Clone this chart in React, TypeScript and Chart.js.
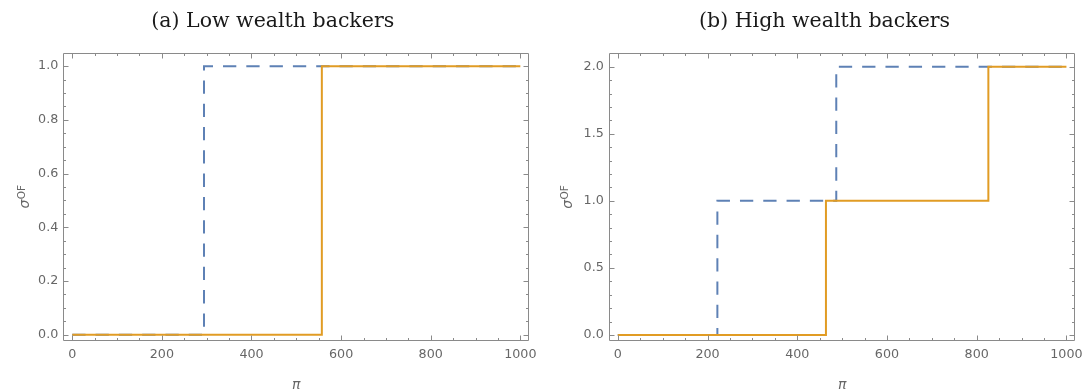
import React, { useEffect, useRef } from 'react';
import { Chart, registerables } from 'chart.js';

Chart.register(...registerables);

// ---- data ----
const lowBlueX = [0, 294, 294, 1000];
const lowBlueY = [0, 0, 1, 1];
const lowOrangeX = [0, 557, 557, 1000];
const lowOrangeY = [0, 0, 1, 1];

const highBlueX = [0, 222, 222, 487, 487, 1000];
const highBlueY = [0, 0, 1, 1, 2, 2];
const highOrangeX = [0, 464, 464, 826, 826, 1000];
const highOrangeY = [0, 0, 1, 1, 2, 2];

const xTickValues = [0, 200, 400, 600, 800, 1000];
const lowYTickValues = [0, 0.2, 0.4, 0.6, 0.8, 1.0];
const highYTickValues = [0, 0.5, 1.0, 1.5, 2.0];

const panelTitles = ['(a) Low wealth backers', '(b) High wealth backers'];
const xAxisLabel = 'π';
const yAxisLabelBase = 'σ';
const yAxisLabelSup = 'OF';

const BLUE = '#5E81B5';
const ORANGE = '#E19C24';
const FRAME = '#8a8a8a';
const TICK_TEXT = '#666666';

type PanelCfg = {
  left: number;
  title: string;
  blueX: number[];
  blueY: number[];
  orangeX: number[];
  orangeY: number[];
  yTicks: number[];
  yMin: number;
  yMax: number;
  yMinorStep: number;
  padLeft: number;
  padRight: number;
  yWidth: number;
  titlePadBottom: number;
};

const TITLE_SIZE = 20.5;
const TITLE_PAD_TOP = 21.5 - (TITLE_SIZE * 1.2) / 2;

const panels: PanelCfg[] = [
  {
    left: 0,
    title: panelTitles[0],
    blueX: lowBlueX,
    blueY: lowBlueY,
    orangeX: lowOrangeX,
    orangeY: lowOrangeY,
    yTicks: lowYTickValues,
    yMin: -0.022,
    yMax: 1.05,
    yMinorStep: 0.05,
    padLeft: 16.3,
    padRight: 13.7,
    yWidth: 47,
    titlePadBottom: 52.7 - TITLE_PAD_TOP - TITLE_SIZE * 1.2,
  },
  {
    left: 543,
    title: panelTitles[1],
    blueX: highBlueX,
    blueY: highBlueY,
    orangeX: highOrangeX,
    orangeY: highOrangeY,
    yTicks: highYTickValues,
    yMin: -0.043,
    yMax: 2.1,
    yMinorStep: 0.1,
    padLeft: 30.8,
    padRight: 10.6,
    yWidth: 35,
    titlePadBottom: 53.3 - TITLE_PAD_TOP - TITLE_SIZE * 1.2,
  },
];

const toPoints = (xs: number[], ys: number[]) => xs.map((x, i) => ({ x, y: ys[i] }));

function makeFramePlugin(cfg: PanelCfg) {
  return {
    id: 'mmaFrame',
    afterDraw(chart: any) {
      const { ctx, chartArea: a, scales } = chart;
      const xs = scales.x;
      const ys = scales.y;
      ctx.save();
      // frame
      ctx.strokeStyle = FRAME;
      ctx.lineWidth = 1;
      const L = Math.round(a.left) + 0.5;
      const R = Math.round(a.right) - 0.5;
      const T = Math.round(a.top) + 0.5;
      const B = Math.round(a.bottom) - 0.5;
      ctx.beginPath();
      ctx.rect(L, T, R - L, B - T);
      ctx.stroke();
      // x ticks (inward, bottom and top)
      ctx.beginPath();
      for (let v = 0; v <= 1000 + 1e-9; v += 50) {
        const major = xTickValues.includes(v);
        const len = major ? 5 : 2.5;
        const px = Math.round(xs.getPixelForValue(v)) + 0.5;
        ctx.moveTo(px, B);
        ctx.lineTo(px, B - len);
        ctx.moveTo(px, T);
        ctx.lineTo(px, T + len);
      }
      // y ticks (inward, left and right)
      const top = cfg.yTicks[cfg.yTicks.length - 1];
      const n = Math.round(top / cfg.yMinorStep);
      for (let i = 0; i <= n; i++) {
        const v = i * cfg.yMinorStep;
        const major = cfg.yTicks.some((t) => Math.abs(t - v) < 1e-9);
        const len = major ? 5 : 2.5;
        const py = Math.round(ys.getPixelForValue(v)) + 0.5;
        ctx.moveTo(L, py);
        ctx.lineTo(L + len, py);
        ctx.moveTo(R, py);
        ctx.lineTo(R - len, py);
      }
      ctx.stroke();

      // x axis label
      ctx.fillStyle = TICK_TEXT;
      ctx.font = 'italic 14px "DejaVu Sans"';
      ctx.textAlign = 'center';
      ctx.textBaseline = 'alphabetic';
      ctx.fillText(xAxisLabel, (a.left + a.right) / 2, 389);

      // y axis label: sigma with superscript OF, rotated
      const cy = (a.top + a.bottom) / 2;
      ctx.save();
      ctx.translate(29, cy);
      ctx.rotate(-Math.PI / 2);
      ctx.font = 'italic 14px "DejaVu Sans"';
      const w1 = ctx.measureText(yAxisLabelBase).width;
      ctx.font = '10.5px "DejaVu Sans"';
      const w2 = ctx.measureText(yAxisLabelSup).width;
      const total = w1 + w2 + 0.5;
      ctx.textAlign = 'left';
      ctx.font = 'italic 14px "DejaVu Sans"';
      ctx.fillText(yAxisLabelBase, -total / 2, 0);
      ctx.font = '10.5px "DejaVu Sans"';
      ctx.fillText(yAxisLabelSup, -total / 2 + w1 + 0.5, -4);
      ctx.restore();

      ctx.restore();
    },
  };
}

function Panel({ cfg }: { cfg: PanelCfg }) {
  const ref = useRef<HTMLCanvasElement>(null);
  useEffect(() => {
    const canvas = ref.current;
    if (!canvas) return;
    const chart = new Chart(canvas, {
      type: 'line',
      data: {
        datasets: [
          {
            label: 'orange',
            data: toPoints(cfg.orangeX, cfg.orangeY),
            borderColor: ORANGE,
            borderWidth: 2,
            pointRadius: 0,
            fill: false,
            tension: 0,
            borderCapStyle: 'butt',
            borderJoinStyle: 'miter',
          },
          {
            label: 'blue',
            data: toPoints(cfg.blueX, cfg.blueY),
            borderColor: BLUE,
            borderWidth: 2,
            borderDash: [13.3, 10],
            pointRadius: 0,
            fill: false,
            tension: 0,
            borderCapStyle: 'butt',
            borderJoinStyle: 'miter',
          },
        ],
      },
      options: {
        responsive: false,
        animation: false,
        devicePixelRatio: 1,
        events: [],
        layout: {
          padding: { left: cfg.padLeft, right: cfg.padRight, top: 0, bottom: 0 },
        },
        plugins: {
          legend: { display: false },
          tooltip: { enabled: false },
          title: {
            display: true,
            text: cfg.title,
            color: '#1a1a1a',
            font: { family: '"DejaVu Serif"', size: TITLE_SIZE, weight: 'normal', lineHeight: 1.2 },
            padding: { top: TITLE_PAD_TOP, bottom: cfg.titlePadBottom },
          },
        },
        scales: {
          x: {
            type: 'linear',
            min: -20,
            max: 1020,
            grid: { display: false, drawTicks: false },
            border: { display: false },
            afterBuildTicks: (scale: any) => {
              scale.ticks = xTickValues.map((v) => ({ value: v }));
            },
            afterFit: (scale: any) => {
              scale.height = 49.3;
              scale.paddingLeft = 0;
              scale.paddingRight = 0;
            },
            ticks: {
              color: TICK_TEXT,
              font: { family: '"DejaVu Sans"', size: 12.7 },
              padding: 6,
              maxRotation: 0,
              autoSkip: false,
              callback: (v: any) => String(v),
            },
          },
          y: {
            type: 'linear',
            min: cfg.yMin,
            max: cfg.yMax,
            grid: { display: false, drawTicks: false },
            border: { display: false },
            afterBuildTicks: (scale: any) => {
              scale.ticks = cfg.yTicks.map((v) => ({ value: v }));
            },
            afterFit: (scale: any) => {
              scale.width = cfg.yWidth;
              scale.paddingTop = 0;
              scale.paddingBottom = 0;
            },
            ticks: {
              color: TICK_TEXT,
              font: { family: '"DejaVu Sans"', size: 12.7 },
              padding: 5,
              autoSkip: false,
              callback: (v: any) => Number(v).toFixed(1),
            },
          },
        },
      },
      plugins: [makeFramePlugin(cfg)],
    } as any);
    return () => chart.destroy();
  }, [cfg]);
  return (
    <canvas
      ref={ref}
      width={543}
      height={390}
      style={{ position: 'absolute', left: cfg.left, top: 0, width: 543, height: 390 }}
    />
  );
}

export default function App() {
  return (
    <div style={{ position: 'absolute', left: 0, top: 0, width: 1086, height: 390, background: '#fff', overflow: 'hidden' }}>
      {panels.map((p, i) => (
        <Panel key={i} cfg={p} />
      ))}
    </div>
  );
}
